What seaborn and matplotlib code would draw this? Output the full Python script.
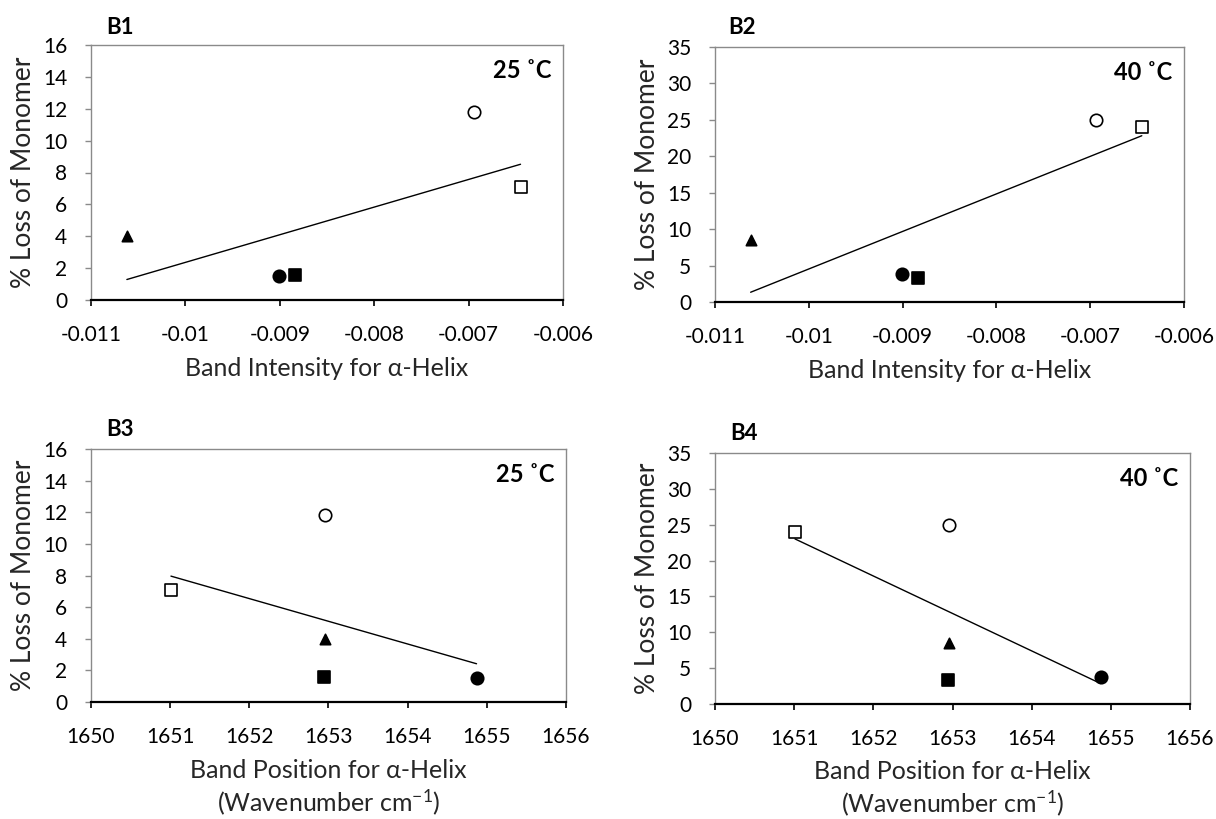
import numpy as np
import pandas as pd
import matplotlib
matplotlib.use("Agg")
import matplotlib.pyplot as plt
import seaborn as sns

# ---------------- data ----------------
samples = ["filled circle", "filled square", "triangle", "open circle", "open square"]
band_intensity = [-0.00901, -0.00884, -0.01062, -0.00694, -0.00645]
band_position = [1654.87, 1652.94, 1652.95, 1652.95, 1651.01]
loss_25C = [1.5, 1.55, 4.0, 11.8, 7.07]
loss_40C = [3.8, 3.3, 8.5, 25.0, 24.0]

intensity_ticks = [-0.011, -0.010, -0.009, -0.008, -0.007, -0.006]
intensity_tick_labels = ["-0.011", "-0.01", "-0.009", "-0.008", "-0.007", "-0.006"]
position_ticks = [1650, 1651, 1652, 1653, 1654, 1655, 1656]
position_tick_labels = ["1650", "1651", "1652", "1653", "1654", "1655", "1656"]
ticks_25C = [0, 2, 4, 6, 8, 10, 12, 14, 16]
ticks_40C = [0, 5, 10, 15, 20, 25, 30, 35]

panel_labels = ["B1", "B2", "B3", "B4"]
temp_labels = ["25 ˚C", "40 ˚C", "25 ˚C", "40 ˚C"]
xlabel_intensity = "Band Intensity for α-Helix"
xlabel_position = "Band Position for α-Helix\n(Wavenumber cm$^{-1}$)"
ylabel = "% Loss of Monomer"

# marker style per sample: (marker, face colour, size)
marker_styles = {
    "filled circle": ("o", "black", 80),
    "filled square": ("s", "black", 64),
    "triangle": ("^", "black", 56),
    "open circle": ("o", "white", 80),
    "open square": ("s", "white", 72),
}

# ---------------- style ----------------
sns.set_theme(style="white")
plt.rcParams["font.family"] = ["Lato", "DejaVu Sans"]
plt.rcParams["mathtext.default"] = "regular"
plt.rcParams["axes.unicode_minus"] = False

W, H = 1216, 819
fig = plt.figure(figsize=(W / 100, H / 100), dpi=100)

def rect(l, r, t, b):
    return [l / W, 1 - b / H, (r - l) / W, (b - t) / H]

panels = [
    dict(rect=rect(91, 563, 45, 300), x=band_intensity, y=loss_25C,
         xt=intensity_ticks, xtl=intensity_tick_labels, xlim=(-0.011, -0.006),
         yt=ticks_25C, ylim=(0, 16), xlabel=xlabel_intensity,
         lab_xy=(106, 27)),
    dict(rect=rect(715, 1184, 47, 302), x=band_intensity, y=loss_40C,
         xt=intensity_ticks, xtl=intensity_tick_labels, xlim=(-0.011, -0.006),
         yt=ticks_40C, ylim=(0, 35), xlabel=xlabel_intensity,
         lab_xy=(728, 27)),
    dict(rect=rect(91, 566, 449, 702), x=band_position, y=loss_25C,
         xt=position_ticks, xtl=position_tick_labels, xlim=(1650, 1656),
         yt=ticks_25C, ylim=(0, 16), xlabel=xlabel_position,
         lab_xy=(106, 430)),
    dict(rect=rect(715, 1190, 453, 704), x=band_position, y=loss_40C,
         xt=position_ticks, xtl=position_tick_labels, xlim=(1650, 1656),
         yt=ticks_40C, ylim=(0, 35), xlabel=xlabel_position,
         lab_xy=(730, 433)),
]

grey = "#8a8a8a"
for i, p in enumerate(panels):
    ax = fig.add_axes(p["rect"])
    df = pd.DataFrame({"sample": samples, "x": p["x"], "y": p["y"]})
    sns.regplot(data=df, x="x", y="y", scatter=False, ci=None, truncate=True,
                color="black", line_kws={"lw": 1.0}, ax=ax)
    for s in samples:
        m, fc, size = marker_styles[s]
        sns.scatterplot(data=df[df["sample"] == s], x="x", y="y", marker=m,
                        s=size, color=fc, edgecolor="black", linewidth=1.2,
                        ax=ax, legend=False, zorder=3)
    ax.set_xlim(*p["xlim"])
    ax.set_ylim(*p["ylim"])
    ax.set_xticks(p["xt"])
    ax.set_xticklabels(p["xtl"])
    ax.set_yticks(p["yt"])
    ax.set_yticklabels([str(v) for v in p["yt"]])
    ax.set_xlabel(p["xlabel"], fontsize=18, linespacing=1.2)
    ax.set_ylabel(ylabel, fontsize=19)
    ax.xaxis.set_label_coords(0.5, -0.225)
    ax.xaxis.label.set_va("top")
    # right edge of the rotated label at ~36 px from the axes' left edge offset
    ax.yaxis.set_label_coords(-55 / (p["rect"][2] * W), 0.5)

    for side in ["top", "right", "left"]:
        ax.spines[side].set_visible(True)
        ax.spines[side].set_color(grey)
        ax.spines[side].set_linewidth(1.0)
    ax.spines["bottom"].set_visible(True)
    ax.spines["bottom"].set_color("black")
    ax.spines["bottom"].set_linewidth(1.6)

    ax.tick_params(axis="y", direction="out", length=4, width=1.0,
                   color=grey, labelcolor="black", labelsize=15, pad=13,
                   left=True)
    ax.tick_params(axis="x", direction="out", length=4, width=1.2,
                   color="black", labelcolor="black", labelsize=15, pad=14,
                   bottom=True)
    ax.grid(False)

    ax.text(0.975, 0.90, temp_labels[i], transform=ax.transAxes,
            ha="right", va="center", fontsize=17, fontweight="bold",
            color="black")
    lx, ly = p["lab_xy"]
    fig.text(lx / W, 1 - ly / H, panel_labels[i], ha="left", va="center",
             fontsize=16, fontweight="bold", color="black")

fig.savefig("out.png", dpi=100, facecolor="white")
